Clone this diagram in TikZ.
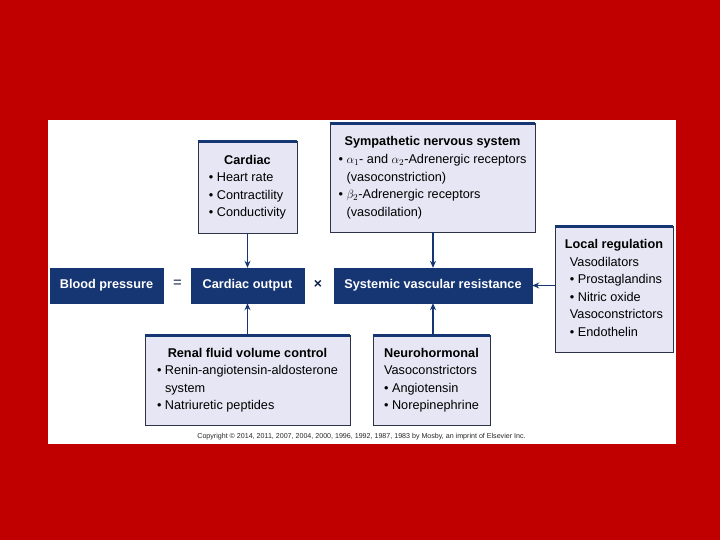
\documentclass[tikz,border=0pt]{standalone}
\usepackage{fontspec}
\setmainfont{Liberation Sans}
\usetikzlibrary{arrows.meta}
\definecolor{bgred}{RGB}{192,0,0}
\definecolor{navy}{RGB}{22,54,115}
\definecolor{lav}{RGB}{230,230,244}
\definecolor{bord}{RGB}{45,50,70}
\newcommand{\bul}{\textbullet\ }
\newcommand{\ind}{\phantom{\textbullet\ }}
\begin{document}
\begin{tikzpicture}[x=1pt,y=-1pt,
  dbox/.style={fill=navy, draw=navy, text=white, font=\bfseries\fontsize{12.7}{15}\selectfont, inner sep=0pt, minimum height=35pt},
  lbox/.style={fill=lav, draw=bord, line width=0.9pt, inner sep=0pt, font=\fontsize{12.7}{17.6}\selectfont},
  arr/.style={navy, line width=1.5pt, -{Stealth[length=7pt,width=6pt]}},
  topbar/.style={navy, line width=3pt}
]
\fill[bgred] (0,0) rectangle (720,540);
\useasboundingbox (0,0) rectangle (720,540);
\fill[white] (48,120) rectangle (676,444);

% main row
\node[dbox, minimum width=113pt] (bp) at (106.5,285.5) {Blood pressure};
\node[dbox, minimum width=113pt] (co) at (247.5,285.5) {Cardiac output};
\node[dbox, minimum width=198pt] (svr) at (433,285.5) {Systemic vascular resistance};
\node[font=\fontsize{15}{15}\selectfont, text=navy!70!black] (eq) at (177.5,283.5) {=};
\node[font=\bfseries\fontsize{14}{14}\selectfont, text=navy!60!black] (times) at (318,284) {×};

% light boxes
\node[lbox, minimum width=99pt, minimum height=92pt] (card) at (247.5,187) {%
\begin{tabular}{@{}l@{}}\multicolumn{1}{@{}c@{}}{\bfseries Cardiac}\\ \bul Heart rate\\ \bul Contractility\\ \bul Conductivity\end{tabular}};

\node[lbox, minimum width=205pt, minimum height=109pt] (symp) at (432.5,177.5) {%
\begin{tabular}{@{}l@{}}\multicolumn{1}{@{}c@{}}{\bfseries Sympathetic nervous system}\\
\bul $\alpha_1$- and $\alpha_2$-Adrenergic receptors\\
\ind(vasoconstriction)\\
\bul $\beta_2$-Adrenergic receptors\\
\ind(vasodilation)\end{tabular}};

\node[lbox, minimum width=118pt, minimum height=126pt] (loc) at (614,289) {%
\begin{tabular}{@{}l@{}}{\bfseries Local regulation}\\
\hspace{5pt}Vasodilators\\
\hspace{5pt}\bul Prostaglandins\\
\hspace{5pt}\bul Nitric oxide\\
\hspace{5pt}Vasoconstrictors\\
\hspace{5pt}\bul Endothelin\end{tabular}};

\node[lbox, minimum width=205pt, minimum height=90pt] (ren) at (247.5,380) {%
\begin{tabular}{@{}l@{}}\multicolumn{1}{@{}c@{}}{\bfseries Renal fluid volume control}\\
\bul Renin-angiotensin-aldosterone\\
\ind system\\
\bul Natriuretic peptides\end{tabular}};

\node[lbox, minimum width=117pt, minimum height=90pt] (neu) at (431.5,380) {%
\begin{tabular}{@{}l@{}}\multicolumn{1}{@{}c@{}}{\bfseries Neurohormonal}\\
Vasoconstrictors\\
\bul Angiotensin\\
\bul Norepinephrine\end{tabular}};

\foreach \b in {card,symp,loc,ren,neu}{
  \draw[topbar] ([yshift=-1pt]\b.north west) -- ([yshift=-1pt]\b.north east);
}

% connectors
\draw[arr] (card.south) -- (co.north);
\draw[arr] (symp.south -| svr.north) -- (svr.north);
\draw[arr] (ren.north) -- (co.south);
\draw[arr] (neu.north -| svr.south) -- (svr.south);
\draw[arr] (loc.west |- svr.east) -- (svr.east);

\node[font=\fontsize{7.1}{8}\selectfont, text=black!85] (copy) at (361.5,436.5) {Copyright © 2014, 2011, 2007, 2004, 2000, 1996, 1992, 1987, 1983 by Mosby, an imprint of Elsevier Inc.};
\end{tikzpicture}
\end{document}
